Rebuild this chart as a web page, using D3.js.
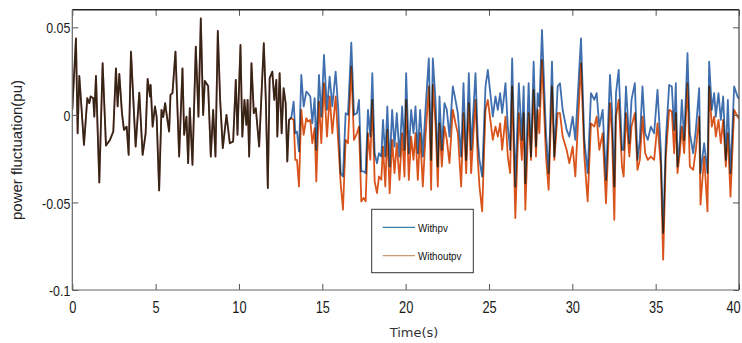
<!DOCTYPE html>
<html><head><meta charset="utf-8">
<script src="https://cdn.jsdelivr.net/npm/d3@7"></script>
<style>body{margin:0;background:#fff} svg{display:block}</style>
</head><body><svg id="c" width="742" height="343"></svg>
<script>
// ---- data ----
const sharedTime = [0,0.22,0.32,0.42,0.56,0.70,0.90,1.02,1.10,1.26,1.32,1.42,1.62,1.82,2.02,2.26,2.46,2.62,2.72,2.82,
 2.98,3.10,3.26,3.38,3.52,3.80,4.02,4.22,4.40,4.52,4.66,4.70,4.82,4.96,5.06,5.21,5.35,5.45,5.57,5.65,
 5.81,5.89,6.01,6.19,6.41,6.61,6.71,6.85,6.95,7.05,7.21,7.41,7.57,7.71,7.85,7.95,8.15,8.31,8.45,8.59,
 8.73,8.87,9.03,9.25,9.45,9.65,9.81,9.91,10.09,10.20,10.33,10.44,10.52,10.61,10.75,10.89,11.01,11.21,11.49,11.61,
 11.73,11.84,12.00,12.12,12.24,12.30,12.44,12.56,12.68,12.80,12.90,13.00];
const sharedValue = [0.003,0.0437,-0.0105,0.0222,0.0029,-0.0171,0.0095,0.0067,0.0105,0.0095,-0.001,0.0222,-0.0386,0.0295,-0.0175,-0.0143,-0.0095,0.0266,0.0048,0.0234,
 0.001,-0.0086,-0.0067,-0.0228,0.0361,-0.0181,0.0127,-0.0228,-0.0105,0.0205,0.0105,0.0171,-0.0067,0.0048,-0.001,-0.0431,0.0029,-0.0013,0.0067,0.001,
 -0.0095,0.0114,0.0124,0.0361,-0.0238,0.0266,-0.0114,-0.001,-0.0276,0.0038,-0.0285,0.039,-0.001,0.0551,0.0,0.0194,0.0165,-0.0238,0.0029,-0.0238,
 0.0479,0.0086,-0.019,0.0,-0.0162,-0.0152,0.02,-0.0114,0.0399,-0.0124,0.0086,-0.0057,0.0086,-0.0238,0.0295,0.001,0.0038,-0.0181,0.0409,0.0086,
 -0.0418,0.0209,0.0247,0.0086,0.02,-0.0124,0.0238,-0.0105,0.0152,0.0067,-0.0266,-0.0029];

const splitTime = [13.15,13.28,13.38,13.48,13.60,13.74,13.88,14.04,14.14,14.28,
 14.40,14.54,14.64,14.80,14.94,15.10,15.28,15.44,15.60,15.80,
 15.96,16.10,16.24,16.40,16.54,16.74,16.90,17.08,17.20,17.34,
 17.48,17.60,17.74,17.88,18.00,18.14,18.28,18.40,18.54,18.64,
 18.78,18.90,19.04,19.19,19.33,19.47,19.63,19.79,19.93,20.03,
 20.19,20.33,20.47,20.59,20.73,20.87,21.03,21.19,21.39,21.53,
 21.63,21.79,21.93,22.03,22.17,22.33,22.47,22.63,22.83,22.99,
 23.13,23.33,23.47,23.63,23.79,23.93,24.19,24.33,24.43,24.59,
 24.79,24.93,25.23,25.39,25.53,25.67,25.79,25.99,26.13,26.27,
 26.39,26.58,26.79,26.97,27.08,27.18,27.38,27.52,27.68,27.82,
 27.92,28.02,28.18,28.42,28.58,28.78,28.92,29.12,29.26,29.42,
 29.66,29.82,30.02,30.18,30.52,30.72,30.92,31.12,31.32,31.46,
 31.62,31.82,32.02,32.26,32.38,32.52,32.62,32.78,32.98,33.08,
 33.22,33.42,33.55,33.75,33.91,34.05,34.21,34.37,34.53,34.71,
 34.91,35.11,35.31,35.45,35.61,35.81,35.97,36.11,36.21,36.31,
 36.45,36.57,36.71,36.91,37.05,37.25,37.41,37.61,37.69,37.91,
 38.11,38.21,38.37,38.51,38.61,38.77,38.91,39.05,39.21,39.33,
 39.49,39.71,39.91,40.0];
const withpvSplit = [-0.001,0.0076,-0.0105,-0.0095,-0.0209,0.0228,0.0048,0.0133,0.0124,0.0105,
 -0.0048,0.0095,-0.02,0.0228,-0.001,0.0342,0.0029,0.0219,0.0048,0.0247,
 0.0029,-0.0333,-0.0352,0.001,0.0,0.0412,0.0,0.001,0.0086,-0.0323,
 -0.0323,-0.0333,0.0029,-0.0124,0.0238,-0.0219,-0.0276,-0.0219,-0.0238,-0.0029,
 -0.0238,0.0048,-0.0295,0.0029,-0.0181,0.001,-0.0238,0.0048,-0.02,0.0238,
 -0.0219,0.0029,-0.0105,0.0048,-0.0219,0.0029,-0.0238,0.0029,0.0323,-0.0257,
 0.0323,0.0086,-0.0295,0.0105,-0.02,0.0067,0.0029,-0.0124,0.0162,0.0086,
 0.001,-0.0238,0.0181,-0.0257,0.0238,-0.02,0.0238,-0.0143,-0.0257,-0.0352,
 0.0162,0.0257,-0.001,0.0105,0.0029,0.0124,0.001,0.0181,-0.0067,-0.02,
 0.0323,-0.0409,0.0181,-0.0143,0.0162,-0.039,0.0181,-0.0238,0.0304,-0.0181,
 0.0124,0.0048,0.0485,-0.0105,-0.0333,0.0304,-0.0238,0.0162,0.0181,0.0029,
 -0.0086,-0.0124,-0.001,-0.0143,0.0437,-0.0143,-0.0333,0.0124,0.0086,0.0124,
 -0.0067,0.0029,-0.0371,0.0228,0.0029,-0.0409,0.0124,0.0257,-0.02,-0.02,
 0.0162,-0.0162,0.0086,0.0181,-0.0257,-0.0143,0.0162,-0.0105,-0.0143,-0.0067,
 -0.0105,0.0143,-0.02,-0.0675,-0.0143,0.0171,0.0162,-0.0086,0.0181,-0.0295,
 -0.0143,0.0086,-0.0143,0.0352,-0.0105,-0.0219,-0.0086,0.0152,-0.0333,-0.0162,
 -0.0333,0.0304,0.0029,0.0124,-0.001,0.0124,-0.0029,0.0105,-0.0257,0.0086,
 -0.0333,0.0162,0.0105,0.009];
const withoutpvSplit = [-0.0019,-0.0029,-0.0257,-0.0257,-0.0409,0.0029,-0.0114,-0.0019,-0.0038,-0.0029,
 -0.0162,-0.0076,-0.038,0.0076,-0.0162,0.0181,-0.0124,0.0105,-0.0105,0.0105,
 -0.0162,-0.039,-0.0542,-0.0143,-0.0162,0.0276,-0.0143,-0.0105,-0.0067,-0.0494,
 -0.0475,-0.0494,-0.0105,-0.0257,0.0086,-0.038,-0.0447,-0.0352,-0.0371,-0.0181,
 -0.0409,-0.0086,-0.0447,-0.0143,-0.0333,-0.0162,-0.0371,-0.0105,-0.0352,0.0086,
 -0.0371,-0.0124,-0.0257,-0.0105,-0.0371,-0.0105,-0.0409,-0.0124,0.0162,-0.0428,
 0.0171,-0.0048,-0.0409,-0.0048,-0.0295,-0.0067,-0.0143,-0.0276,0.0029,-0.0048,
 -0.0105,-0.0409,0.001,-0.0333,0.0067,-0.0333,0.0086,-0.0257,-0.0409,-0.0551,
 0.0029,0.0086,-0.0143,-0.0067,-0.0124,-0.0048,-0.02,-0.001,-0.0238,-0.0333,
 0.0162,-0.0589,0.001,-0.0257,0.001,-0.0542,0.001,-0.0257,0.0143,-0.0238,
 0.0029,-0.0105,0.0314,-0.0238,-0.0428,0.0162,-0.0257,0.001,0.001,-0.0124,
 -0.02,-0.0276,-0.0181,-0.0352,0.0295,-0.0238,-0.0494,-0.0048,-0.0067,-0.001,
 -0.02,-0.0105,-0.0504,0.0067,-0.0105,-0.0599,-0.001,0.0086,-0.0295,-0.0352,
 0.001,-0.0238,-0.0067,0.001,-0.0314,-0.0257,-0.001,-0.0219,-0.0257,-0.0238,
 -0.0257,-0.0048,-0.0295,-0.0827,-0.0238,0.0029,0.0019,-0.0219,0.001,-0.0333,
 -0.0219,-0.0067,-0.0219,0.0181,-0.0295,-0.0314,-0.02,-0.001,-0.0513,-0.0238,
 -0.0551,0.0162,-0.0067,-0.001,-0.0124,-0.0029,-0.0162,-0.0029,-0.0295,-0.0105,
 -0.0466,0.0029,-0.001,-0.002];

const seriesNames = ["Withpv", "Withoutpv"];
const seriesColors = ["#3f6fae", "#d9541c"];
const xTickValues = [0,5,10,15,20,25,30,35,40];
const yTickValues = [-0.1,-0.05,0,0.05];
const yTickLabels = ["-0.1","-0.05","0","0.05"];
const xLabel = "Time(s)";
const yLabel = "power fluctuation(pu)";

// ---- build series ----
function build(splitVals){
  const pts = sharedTime.map((t,i)=>({t, v: sharedValue[i]}));
  const n = Math.min(splitTime.length, splitVals.length);
  for (let i=0;i<n;i++) pts.push({t: splitTime[i], v: splitVals[i]});
  return pts;
}
const series = [build(withpvSplit), build(withoutpvSplit)];

// ---- layout ----
const L = 72.3, R = 739, T = 9.8, B = 290;
const svg = d3.select("#c");
svg.append("rect").attr("width",742).attr("height",343).attr("fill","#fff");

const x = d3.scaleLinear().domain([0,40]).range([L,R]);
const y = d3.scaleLinear().domain([-0.1,0.06]).range([B,T]);

const plot = svg.append("g").style("isolation","isolate");
plot.append("rect").attr("x",L).attr("y",T).attr("width",R-L).attr("height",B-T).attr("fill","#fff");
svg.append("clipPath").attr("id","clip").append("rect").attr("x",L).attr("y",T).attr("width",R-L).attr("height",B-T);

const line = d3.line().x(d=>x(d.t)).y(d=>y(d.v));
series.forEach((s,i)=>{
  plot.append("path").datum(s).attr("d",line)
    .attr("fill","none").attr("stroke",seriesColors[i]).attr("stroke-width",1.8)
    .attr("stroke-linejoin","round")
    .attr("clip-path","url(#clip)")
    .style("mix-blend-mode","multiply");
});

// ---- axes ----
const SX = 0.8;
const axisColor = "#555";
const tick = 6;
const xb = svg.append("g").attr("transform",`translate(0,${B})`)
  .call(d3.axisBottom(x).tickValues(xTickValues).tickSize(-tick).tickPadding(0).tickFormat(d3.format("d")));
xb.select(".domain").remove();
xb.selectAll(".tick line").attr("stroke",axisColor);
xb.selectAll(".tick text").attr("y",23).attr("dy",null)
  .attr("x",d=> d===40 ? -6/SX : 0)
  .attr("transform",`scale(${SX},1)`)
  .style("font-family","'Liberation Sans', Arial, sans-serif").style("font-size","16px").attr("fill","#1a1a1a");

const xt = svg.append("g").attr("transform",`translate(0,${T})`)
  .call(d3.axisTop(x).tickValues(xTickValues).tickSize(-tick).tickFormat(""));
xt.select(".domain").remove();
xt.selectAll(".tick line").attr("stroke",axisColor);

const yl = svg.append("g").attr("transform",`translate(${L},0)`)
  .call(d3.axisLeft(y).tickValues(yTickValues).tickSize(-tick).tickFormat((d,i)=>yTickLabels[i]));
yl.select(".domain").remove();
yl.selectAll(".tick line").attr("stroke",axisColor);
yl.selectAll(".tick text").attr("x",-2/SX).attr("dy","0.36em")
  .attr("transform",`scale(${SX},1)`)
  .style("font-family","'Liberation Sans', Arial, sans-serif").style("font-size","15.5px").attr("fill","#1a1a1a");

const yr = svg.append("g").attr("transform",`translate(${R},0)`)
  .call(d3.axisRight(y).tickValues(yTickValues).tickSize(-tick).tickFormat(""));
yr.select(".domain").remove();
yr.selectAll(".tick line").attr("stroke",axisColor);

// frame
svg.append("line").attr("x1",L).attr("x2",R).attr("y1",T).attr("y2",T).attr("stroke","#222").attr("stroke-width",1.5);
svg.append("line").attr("x1",L).attr("x2",R).attr("y1",B).attr("y2",B).attr("stroke","#666").attr("stroke-width",1.2);
svg.append("line").attr("x1",L).attr("x2",L).attr("y1",T).attr("y2",B).attr("stroke","#666").attr("stroke-width",1.2);
svg.append("line").attr("x1",R).attr("x2",R).attr("y1",T).attr("y2",B).attr("stroke","#444").attr("stroke-width",1.2);

// axis labels
svg.append("text").attr("x",414).attr("y",337).attr("text-anchor","middle")
  .style("font-family","'DejaVu Sans', sans-serif").style("font-size","13px").attr("fill","#333").text(xLabel);
svg.append("text").attr("transform","translate(22,150) rotate(-90)").attr("text-anchor","middle")
  .style("font-family","'Liberation Sans', Arial, sans-serif").style("font-size","15px").attr("fill","#222").text(yLabel);

// legend
const lg = svg.append("g");
lg.append("rect").attr("x",371.7).attr("y",209.3).attr("width",101.6).attr("height",63.4)
  .attr("fill","#fff").attr("stroke","#333").attr("stroke-width",1);
const legendY = [227.3, 255.7];
const legendColors = ["#3a7fa9", "#c99a72"];
seriesNames.forEach((name,i)=>{
  lg.append("line").attr("x1",382.7).attr("x2",415).attr("y1",legendY[i]).attr("y2",legendY[i])
    .attr("stroke",legendColors[i]).attr("stroke-width",1.3);
  lg.append("text").attr("transform",`translate(418,${legendY[i]+4.2}) scale(0.85,1)`)
    .style("font-family","'Liberation Sans', Arial, sans-serif").style("font-size","11.5px").attr("fill","#111").text(name);
});
</script></body></html>
